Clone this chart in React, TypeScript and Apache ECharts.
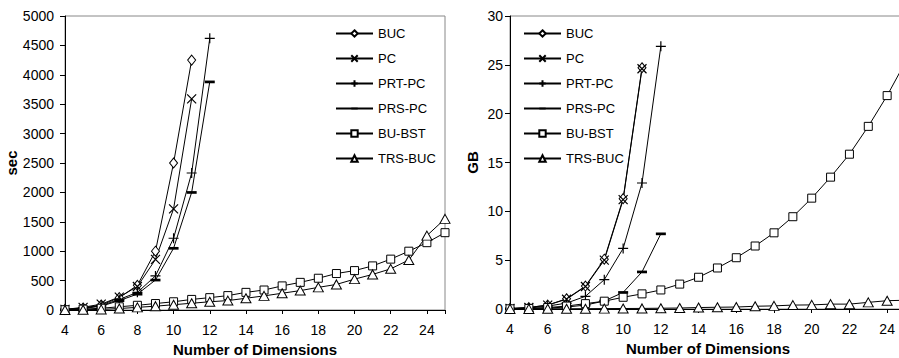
import React, { useEffect, useRef } from "react";
import * as echarts from "echarts";

const dims = [4, 5, 6, 7, 8, 9, 10, 11, 12, 13, 14, 15, 16, 17, 18, 19, 20, 21, 22, 23, 24, 25];
const seriesNames = ["BUC", "PC", "PRT-PC", "PRS-PC", "BU-BST", "TRS-BUC"];

// Left chart: time in seconds
const secBUC = [10, 35, 85, 210, 420, 1000, 2500, 4250];
const secPC = [10, 45, 100, 220, 400, 860, 1720, 3590];
const secPRT = [5, 30, 75, 180, 300, 580, 1220, 2330, 4620];
const secPRS = [5, 25, 65, 160, 270, 510, 1050, 2000, 3880];
const secBUBST = [5, 15, 30, 55, 80, 110, 140, 180, 210, 245, 300, 340, 410, 470, 540, 620, 670, 750, 865, 1000, 1145, 1315];
const secTRS = [0, 5, 10, 25, 45, 65, 90, 115, 140, 160, 200, 240, 285, 330, 385, 435, 525, 605, 700, 850, 1265, 1550];

// Right chart: storage in GB
const gbBUC = [0.05, 0.15, 0.4, 1.05, 2.35, 5.1, 11.3, 24.7];
const gbPC = [0.05, 0.15, 0.4, 1.0, 2.3, 5.0, 11.2, 24.6];
const gbPRT = [0.03, 0.1, 0.3, 0.6, 1.3, 3.0, 6.2, 12.9, 26.9];
const gbPRS = [0.02, 0.05, 0.1, 0.2, 0.4, 0.82, 1.7, 3.8, 7.7];
const gbBUBST = [0.02, 0.06, 0.15, 0.3, 0.55, 0.8, 1.2, 1.55, 1.95, 2.55, 3.25, 4.2, 5.25, 6.45, 7.8, 9.45, 11.35, 13.5, 15.85, 18.7, 21.85, 25.4];
const gbTRS = [0.01, 0.01, 0.02, 0.02, 0.03, 0.04, 0.05, 0.06, 0.08, 0.1, 0.15, 0.18, 0.2, 0.28, 0.32, 0.4, 0.42, 0.5, 0.5, 0.68, 0.85, 0.9];

const FONT = "'Liberation Sans', Arial, sans-serif";

const symbolDefs: any[] = [
  { symbol: "diamond", symbolSize: [8, 10], itemStyle: { color: "#fff", borderColor: "#000", borderWidth: 1 } },
  { symbol: "path://M0,0L10,10M10,0L0,10", symbolSize: 9, itemStyle: { color: "#000", borderColor: "#000", borderWidth: 1.2 } },
  { symbol: "path://M5,0L5,10M0,5L10,5", symbolSize: 10, itemStyle: { color: "#000", borderColor: "#000", borderWidth: 1.2 } },
  { symbol: "path://M0,0M10,10M0,3.7H10V6.4H0Z", symbolSize: 10, itemStyle: { color: "#000", borderColor: "#000", borderWidth: 0 } },
  { symbol: "rect", symbolSize: 8, itemStyle: { color: "#fff", borderColor: "#000", borderWidth: 1 } },
  { symbol: "triangle", symbolSize: [10, 9], itemStyle: { color: "#fff", borderColor: "#000", borderWidth: 1 } },
];

function pairs(vals: number[]) {
  return vals.map((v, i) => [dims[i], v]);
}

function mkSeries(idx: number, data: number[][]) {
  return seriesNames.map((name, i) => ({
    type: "line",
    name,
    xAxisIndex: idx,
    yAxisIndex: idx,
    data: data[i],
    ...symbolDefs[i],
    showAllSymbol: true,
    lineStyle: { color: "#000", width: 1 },
    emphasis: { disabled: true },
  }));
}

function xAxis(idx: number) {
  return {
    type: "value",
    gridIndex: idx,
    min: 4,
    max: 25,
    interval: 2,
    name: "Number of Dimensions",
    nameLocation: "middle",
    nameGap: 32,
    nameTextStyle: { fontFamily: FONT, fontWeight: "bold", fontSize: 15, color: "#000" },
    axisLine: { lineStyle: { color: "#000", width: 1 } },
    axisTick: { show: true, inside: false, length: 4, lineStyle: { color: "#000" } },
    axisLabel: {
      fontFamily: FONT,
      fontSize: 14,
      color: "#000",
      margin: 13,
      formatter: (v: number) => (v === 25 ? "" : String(v)),
    },
    splitLine: { show: false },
  };
}

export default function App() {
  const ref = useRef<HTMLDivElement>(null);
  useEffect(() => {
    document.body.style.margin = "0";
    const chart = echarts.init(ref.current!, null, { renderer: "svg" });
    const legendBase = {
      orient: "vertical",
      itemWidth: 37,
      itemHeight: 8,
      itemGap: 12,
      textStyle: { fontFamily: FONT, fontSize: 13, color: "#000" },
      data: seriesNames,
      selectedMode: false,
    };
    chart.setOption({
      animation: false,
      backgroundColor: "#fff",
      grid: [
        { left: 65, top: 16, width: 380, height: 294, show: true, borderColor: "#888", borderWidth: 1, backgroundColor: "transparent", outerBoundsMode: "none", containLabel: false },
        { left: 510, top: 16, width: 396, height: 293, show: true, borderColor: "#888", borderWidth: 1, backgroundColor: "transparent", outerBoundsMode: "none", containLabel: false },
      ],
      legend: [
        { ...legendBase, left: 330, top: 22 },
        { ...legendBase, left: 518, top: 22 },
      ],
      xAxis: [xAxis(0), xAxis(1)],
      yAxis: [
        {
          type: "value",
          gridIndex: 0,
          min: 0,
          max: 5000,
          interval: 500,
          name: "sec",
          nameLocation: "middle",
          nameGap: 41,
          nameTextStyle: { fontFamily: FONT, fontWeight: "bold", fontSize: 15, color: "#000" },
          axisLine: { show: true, lineStyle: { color: "#000", width: 1 } },
          axisTick: { show: true, length: 5, lineStyle: { color: "#000" } },
          axisLabel: { fontFamily: FONT, fontSize: 14, color: "#000", margin: 11, formatter: (v: number) => String(v) },
          splitLine: { show: false },
        },
        {
          type: "value",
          gridIndex: 1,
          min: 0,
          max: 30,
          interval: 5,
          name: "GB",
          nameLocation: "middle",
          nameGap: 30,
          nameTextStyle: { fontFamily: FONT, fontWeight: "bold", fontSize: 15, color: "#000" },
          axisLine: { show: true, lineStyle: { color: "#000", width: 1 } },
          axisTick: { show: true, length: 5, lineStyle: { color: "#000" } },
          axisLabel: { fontFamily: FONT, fontSize: 14, color: "#000", margin: 7, formatter: (v: number) => String(v) },
          splitLine: { show: false },
        },
      ],
      series: [
        ...mkSeries(0, [secBUC, secPC, secPRT, secPRS, secBUBST, secTRS].map(pairs)),
        ...mkSeries(1, [gbBUC, gbPC, gbPRT, gbPRS, gbBUBST, gbTRS].map(pairs)),
      ],
    });
    return () => chart.dispose();
  }, []);
  return <div ref={ref} style={{ width: 899, height: 358 }} />;
}
